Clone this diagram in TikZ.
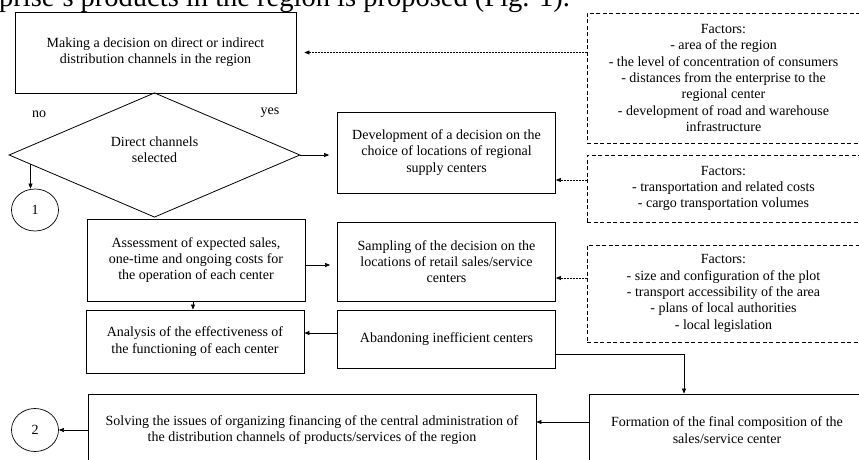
\documentclass[tikz,border=0pt]{standalone}
\usepackage{fontspec}
\setmainfont{Liberation Serif}
\usetikzlibrary{shapes.geometric,arrows.meta,calc}

\begin{document}
\begin{tikzpicture}[x=1pt,y=-1pt,
    font=\fontsize{14}{16.3}\selectfont,
    box/.style={draw,line width=0.8pt,align=center,inner sep=0pt},
    factors/.style={draw,line width=0.7pt,dash pattern=on 4pt off 2.5pt,align=center,inner sep=0pt},
    arr/.style={-{Triangle[length=5pt,width=4pt]},line width=0.6pt},
    dotarr/.style={arr,dash pattern=on 1.5pt off 1.5pt,line width=0.5pt}]
    \useasboundingbox (0,0) rectangle (859,460);
    \clip (0,0) rectangle (859,460);
    \node[anchor=base west,inner sep=0pt,font=\fontsize{28.5}{30}\selectfont] (t) at (-1,7) {prise's products in the region is proposed (Fig. 1).};
    % main chain
    \node[box,minimum width=281pt,minimum height=81pt] (b1) at (155.5,52.5) {Making a decision on direct or indirect\\distribution channels in the region};
    \node[box,diamond,minimum width=291pt,minimum height=124pt,text depth=11pt] (v) at (154.5,155) {Direct channels\\selected};
    \node (no) at (39,114) {no};
    \node (yes) at (270,113) {yes};
    \node[box,minimum width=218pt,minimum height=81pt] (b2) at (446.5,152.5) {Development of a decision on the\\choice of locations of regional\\supply centers};
    \node[box,minimum width=218pt,minimum height=82pt] (b3) at (196,260) {Assessment of expected sales,\\one-time and ongoing costs for\\the operation of each center};
    \node[box,minimum width=218pt,minimum height=79pt] (b4) at (446.5,261.5) {Sampling of the decision on the\\locations of retail sales/service\\centers};
    \node[box,minimum width=218pt,minimum height=63pt] (b5) at (195,341.5) {Analysis of the effectiveness of\\the functioning of each center};
    \node[box,minimum width=218pt,minimum height=58pt] (b6) at (446.5,339) {Abandoning inefficient centers};
    \node[box,minimum width=448pt,minimum height=72pt] (b7) at (312,430) {Solving the issues of organizing financing of the central administration of\\the distribution channels of products/services of the region};
    \node[box,minimum width=276pt,minimum height=72pt] (b8) at (727,430) {Formation of the final composition of the\\sales/service center};
    \node[draw,ellipse,line width=0.7pt,minimum width=47pt,minimum height=42pt,inner sep=0pt] (c1) at (35,210) {1};
    \node[draw,ellipse,line width=0.7pt,minimum width=47pt,minimum height=43pt,inner sep=0pt] (c2) at (35,430) {2};
    % factors
    \node[factors,minimum width=273pt,minimum height=130pt] (f1) at (723.5,78) {Factors:\\- area of the region\\- the level of concentration of consumers\\- distances from the enterprise to the\\regional center\\- development of road and warehouse\\infrastructure};
    \node[factors,minimum width=273pt,minimum height=67pt] (f2) at (723.5,188.5) {Factors:\\- transportation and related costs\\- cargo transportation volumes};
    \node[factors,minimum width=273pt,minimum height=97pt] (f3) at (723.5,293.5) {Factors:\\- size and configuration of the plot\\- transport accessibility of the area\\- plans of local authorities\\- local legislation};
    % connectors
    \draw[dotarr,shorten >=8pt] (f1.west |- b1) -- (b1.east);
    \draw[dotarr] ([yshift=8.5pt]f2.west) coordinate (f2a) -- (f2a -| b2.east);
    \draw[dotarr] ([yshift=15.5pt]f3.west) coordinate (f3a) -- (f3a -| b4.east);
    \draw[arr,shorten >=8pt] (v.east) -- (v.east -| b2.west);
    \draw[arr] ($(v.west)!0.15!(v.south)$) coordinate (d1) -- (d1 |- c1.north);
    \draw[arr,shorten >=7pt] ([yshift=-5pt]b3.east) coordinate (b3a) -- (b3a -| b4.west);
    \draw[arr] ([xshift=-3pt]b3.south) coordinate (b3b) -- (b3b |- b5.north);
    \draw[arr] ([yshift=6pt]b6.west) coordinate (b6a) -- (b6a -| b5.east);
    \draw[arr] ([yshift=-15pt]b6.east) -| ([xshift=-43pt]b8.north);
    \draw[arr] ([yshift=8pt]b8.west) coordinate (b8a) -- (b8a -| b7.east);
    \draw[arr] (b7.west) -- (c2.east);
\end{tikzpicture}
\end{document}
